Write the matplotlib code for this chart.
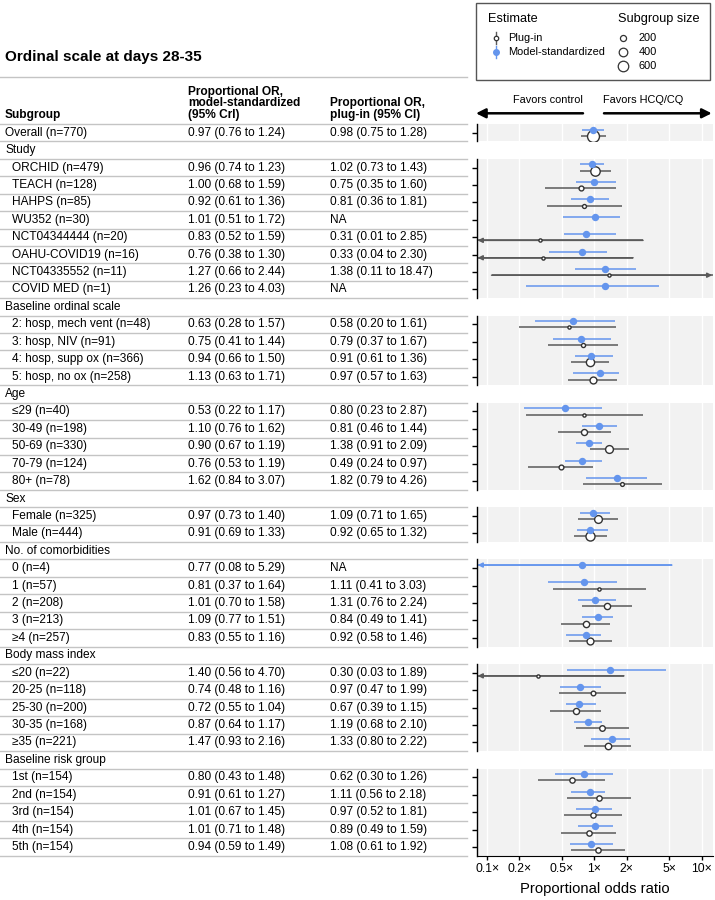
import numpy as np
import matplotlib
matplotlib.use("Agg")
import matplotlib.pyplot as plt
from matplotlib.patches import Rectangle

plt.rcParams['font.family'] = ['Liberation Sans', 'DejaVu Sans']

NA = np.nan

# subgroup rows (group "" = overall)
labels = ["Overall",
          "ORCHID", "TEACH", "HAHPS", "WU352", "NCT04344444", "OAHU-COVID19", "NCT04335552", "COVID MED",
          "2: hosp, mech vent", "3: hosp, NIV", "4: hosp, supp ox", "5: hosp, no ox",
          "≤29", "30-49", "50-69", "70-79", "80+",
          "Female", "Male",
          "0", "1", "2", "3", "≥4",
          "≤20", "20-25", "25-30", "30-35", "≥35",
          "1st", "2nd", "3rd", "4th", "5th"]
groups = [""] + ["Study"] * 8 + ["Baseline ordinal scale"] * 4 + ["Age"] * 5 + ["Sex"] * 2 \
    + ["No. of comorbidities"] * 5 + ["Body mass index"] * 5 + ["Baseline risk group"] * 5
sizes = [770,
         479, 128, 85, 30, 20, 16, 11, 1,
         48, 91, 366, 258,
         40, 198, 330, 124, 78,
         325, 444,
         4, 57, 208, 213, 257,
         22, 118, 200, 168, 221,
         154, 154, 154, 154, 154]

ms_or = [0.97, 0.96, 1.00, 0.92, 1.01, 0.83, 0.76, 1.27, 1.26,
         0.63, 0.75, 0.94, 1.13, 0.53, 1.10, 0.90, 0.76, 1.62,
         0.97, 0.91, 0.77, 0.81, 1.01, 1.09, 0.83,
         1.40, 0.74, 0.72, 0.87, 1.47, 0.80, 0.91, 1.01, 1.01, 0.94]
ms_lo = [0.76, 0.74, 0.68, 0.61, 0.51, 0.52, 0.38, 0.66, 0.23,
         0.28, 0.41, 0.66, 0.63, 0.22, 0.76, 0.67, 0.53, 0.84,
         0.73, 0.69, 0.08, 0.37, 0.70, 0.77, 0.55,
         0.56, 0.48, 0.55, 0.64, 0.93, 0.43, 0.61, 0.67, 0.71, 0.59]
ms_hi = [1.24, 1.23, 1.59, 1.36, 1.72, 1.59, 1.30, 2.44, 4.03,
         1.57, 1.44, 1.50, 1.71, 1.17, 1.62, 1.19, 1.19, 3.07,
         1.40, 1.33, 5.29, 1.64, 1.58, 1.51, 1.16,
         4.70, 1.16, 1.04, 1.17, 2.16, 1.48, 1.27, 1.45, 1.48, 1.49]

pi_or = [0.98, 1.02, 0.75, 0.81, NA, 0.31, 0.33, 1.38, NA,
         0.58, 0.79, 0.91, 0.97, 0.80, 0.81, 1.38, 0.49, 1.82,
         1.09, 0.92, NA, 1.11, 1.31, 0.84, 0.92,
         0.30, 0.97, 0.67, 1.19, 1.33, 0.62, 1.11, 0.97, 0.89, 1.08]
pi_lo = [0.75, 0.73, 0.35, 0.36, NA, 0.01, 0.04, 0.11, NA,
         0.20, 0.37, 0.61, 0.57, 0.23, 0.46, 0.91, 0.24, 0.79,
         0.71, 0.65, NA, 0.41, 0.76, 0.49, 0.58,
         0.03, 0.47, 0.39, 0.68, 0.80, 0.30, 0.56, 0.52, 0.49, 0.61]
pi_hi = [1.28, 1.43, 1.60, 1.81, NA, 2.85, 2.30, 18.47, NA,
         1.61, 1.67, 1.36, 1.63, 2.87, 1.44, 2.09, 0.97, 4.26,
         1.65, 1.32, NA, 3.03, 2.24, 1.41, 1.46,
         1.89, 1.99, 1.15, 2.10, 2.22, 1.26, 2.18, 1.81, 1.59, 1.92]

x_ticks = [0.1, 0.2, 0.5, 1, 2, 5, 10]
x_ticklabels = ["0.1×", "0.2×", "0.5×", "1×", "2×", "5×", "10×"]
legend_sizes = [200, 400, 600]

BLUE = "#6495ED"
GREY = "#5a5a5a"
SEP = "#c4c4c4"
W, H = 715, 900
Y0, DY = 132.7, 17.42
XMIN, XMAX = 0.08, 12.8
FS = 8.6


def fmt(est, lo, hi):
    if np.isnan(est):
        return "NA"
    return f"{est:.2f} ({lo:.2f} to {hi:.2f})"


def circ_ms(n):
    d = max(0.43 * np.sqrt(n), 3.2)
    return d / (100 / 72)


# layout: list of (kind, text, data index)
layout = []
prev = None
for k, g in enumerate(groups):
    if g != prev and g != "":
        layout.append(("group", g, None))
    layout.append(("row", labels[k], k))
    prev = g

fig = plt.figure(figsize=(W / 100, H / 100), dpi=100)
bg = fig.add_axes([0, 0, 1, 1])
bg.set_xlim(0, W)
bg.set_ylim(H, 0)
bg.axis("off")

# title and header
bg.text(5, 57, "Ordinal scale at days 28-35", fontsize=11, fontweight="bold", va="center")
bg.plot([0, 467], [77.3, 77.3], color=SEP, lw=1)
bg.text(5, 115, "Subgroup", fontsize=FS, fontweight="bold", va="center")
for t, yy in zip(["Proportional OR,", "model-standardized", "(95% CrI)"], [91.7, 103.3, 115]):
    bg.text(188, yy, t, fontsize=FS, fontweight="bold", va="center")
for t, yy in zip(["Proportional OR,", "plug-in (95% CI)"], [103.3, 115]):
    bg.text(330, yy, t, fontsize=FS, fontweight="bold", va="center")
bg.plot([0, 467], [Y0 - DY / 2] * 2, color=SEP, lw=1)

# table rows
for i, (kind, text, k) in enumerate(layout):
    yy = Y0 + i * DY
    if kind == "group":
        bg.text(5, yy, text, fontsize=FS, va="center")
    else:
        x = 5 if groups[k] == "" else 12
        bg.text(x, yy, f"{text} (n={sizes[k]})", fontsize=FS, va="center")
        bg.text(188, yy, fmt(ms_or[k], ms_lo[k], ms_hi[k]), fontsize=FS, va="center")
        bg.text(330, yy, fmt(pi_or[k], pi_lo[k], pi_hi[k]), fontsize=FS, va="center")
    bg.plot([0, 467], [yy + DY / 2] * 2, color=SEP, lw=1)

# legend box
bg.add_patch(Rectangle((475.7, 3.3), 234.3, 76.7, facecolor="white", edgecolor="#555555", lw=1))
bg.text(487.7, 18.7, "Estimate", fontsize=9.2, va="center")
bg.text(617.7, 18.7, "Subgroup size", fontsize=9.2, va="center")
bg.plot([496, 496], [32, 43.5], color=GREY, lw=1)
bg.plot([496], [37.7], marker="o", ms=3.2, mfc="white", mec="#333333", mew=0.9)
bg.text(508.3, 37.7, "Plug-in", fontsize=7.9, va="center")
bg.plot([496, 496], [46, 57.5], color=BLUE, lw=1)
bg.plot([496], [51.7], marker="o", ms=4.0, color=BLUE)
bg.text(508.3, 51.7, "Model-standardized", fontsize=7.9, va="center")
for n, yy in zip(legend_sizes, [37.7, 51.7, 65.7]):
    bg.plot([622.7], [yy], marker="o", ms=circ_ms(n), mfc="white", mec="#333333", mew=0.9)
    bg.text(638.3, yy, str(n), fontsize=7.9, va="center")

# favors arrows
bg.text(548, 100, "Favors control", fontsize=7.9, ha="center", va="center")
bg.text(643, 100, "Favors HCQ/CQ", fontsize=7.9, ha="center", va="center")
arrow = dict(arrowstyle="-|>", lw=1.8, color="black", mutation_scale=14, shrinkA=0, shrinkB=0)
bg.annotate("", xy=(476, 113.3), xytext=(583, 113.3), arrowprops=arrow)
bg.annotate("", xy=(711.7, 113.3), xytext=(604, 113.3), arrowprops=arrow)
bg.text(595, 889, "Proportional odds ratio", fontsize=10.6, ha="center", va="center")

# panel blocks of consecutive data rows
blocks = []
cur = []
prev = None
for i, (kind, text, k) in enumerate(layout):
    if kind == "row" and (groups[k] == prev or not cur):
        cur.append((i, k))
    else:
        if cur:
            blocks.append(cur)
        cur = [(i, k)] if kind == "row" else []
    if kind == "row":
        prev = groups[k]
blocks.append(cur)

L = 476.7 / W
PW = (713 - 476.7) / W


def seg(ax, y, lo, hi, color):
    a, b = max(lo, XMIN), min(hi, XMAX)
    ax.plot([a, b], [y, y], color=color, lw=1.1, solid_capstyle="butt", zorder=2)
    ap = dict(arrowstyle="-|>", lw=1.1, color=color, mutation_scale=7, shrinkA=0, shrinkB=0)
    if lo <= XMIN:
        ax.annotate("", xy=(XMIN * 1.02, y), xytext=(min(hi, XMAX), y), arrowprops=ap, zorder=2)
    if hi >= XMAX:
        ax.annotate("", xy=(XMAX * 0.985, y), xytext=(max(lo, XMIN), y), arrowprops=ap, zorder=2)


for bi, blk in enumerate(blocks):
    i0, i1 = blk[0][0], blk[-1][0]
    top = Y0 + (i0 - 0.5) * DY
    bot = Y0 + (i1 + 0.5) * DY
    ax = fig.add_axes([L, 1 - bot / H, PW, (bot - top) / H])
    ax.set_facecolor("#f2f2f2")
    ax.set_xscale("log")
    ax.set_xlim(XMIN, XMAX)
    ax.set_ylim(i1 + 0.5, i0 - 0.5)
    ax.set_xticks(x_ticks)
    ax.minorticks_off()
    ax.grid(axis="x", color="white", lw=1)
    ax.set_axisbelow(True)
    ax.set_yticks([i for i, _ in blk])
    ax.set_yticklabels([])
    ax.tick_params(axis="y", length=3.5, width=1, color="black")
    for s in ["top", "right"]:
        ax.spines[s].set_visible(False)
    ax.spines["left"].set_color("black")
    ax.spines["left"].set_linewidth(1)
    last = bi == len(blocks) - 1
    if last:
        ax.set_xticklabels(x_ticklabels, fontsize=8.8)
        ax.tick_params(axis="x", length=3, width=1, color="black", pad=2)
        ax.spines["bottom"].set_color("black")
    else:
        ax.spines["bottom"].set_visible(False)
        ax.tick_params(axis="x", length=0, labelbottom=False)

    for i, k in blk:
        if not np.isnan(pi_or[k]):
            seg(ax, i + 0.18, pi_lo[k], pi_hi[k], GREY)
            ax.plot([pi_or[k]], [i + 0.18], marker="o", ms=circ_ms(sizes[k]), mfc="white",
                    mec="#333333", mew=1.0, zorder=3)
        seg(ax, i - 0.18, ms_lo[k], ms_hi[k], BLUE)
        ax.plot([ms_or[k]], [i - 0.18], marker="o", ms=4.3, color=BLUE, zorder=4)

fig.savefig("out.png", dpi=100)
